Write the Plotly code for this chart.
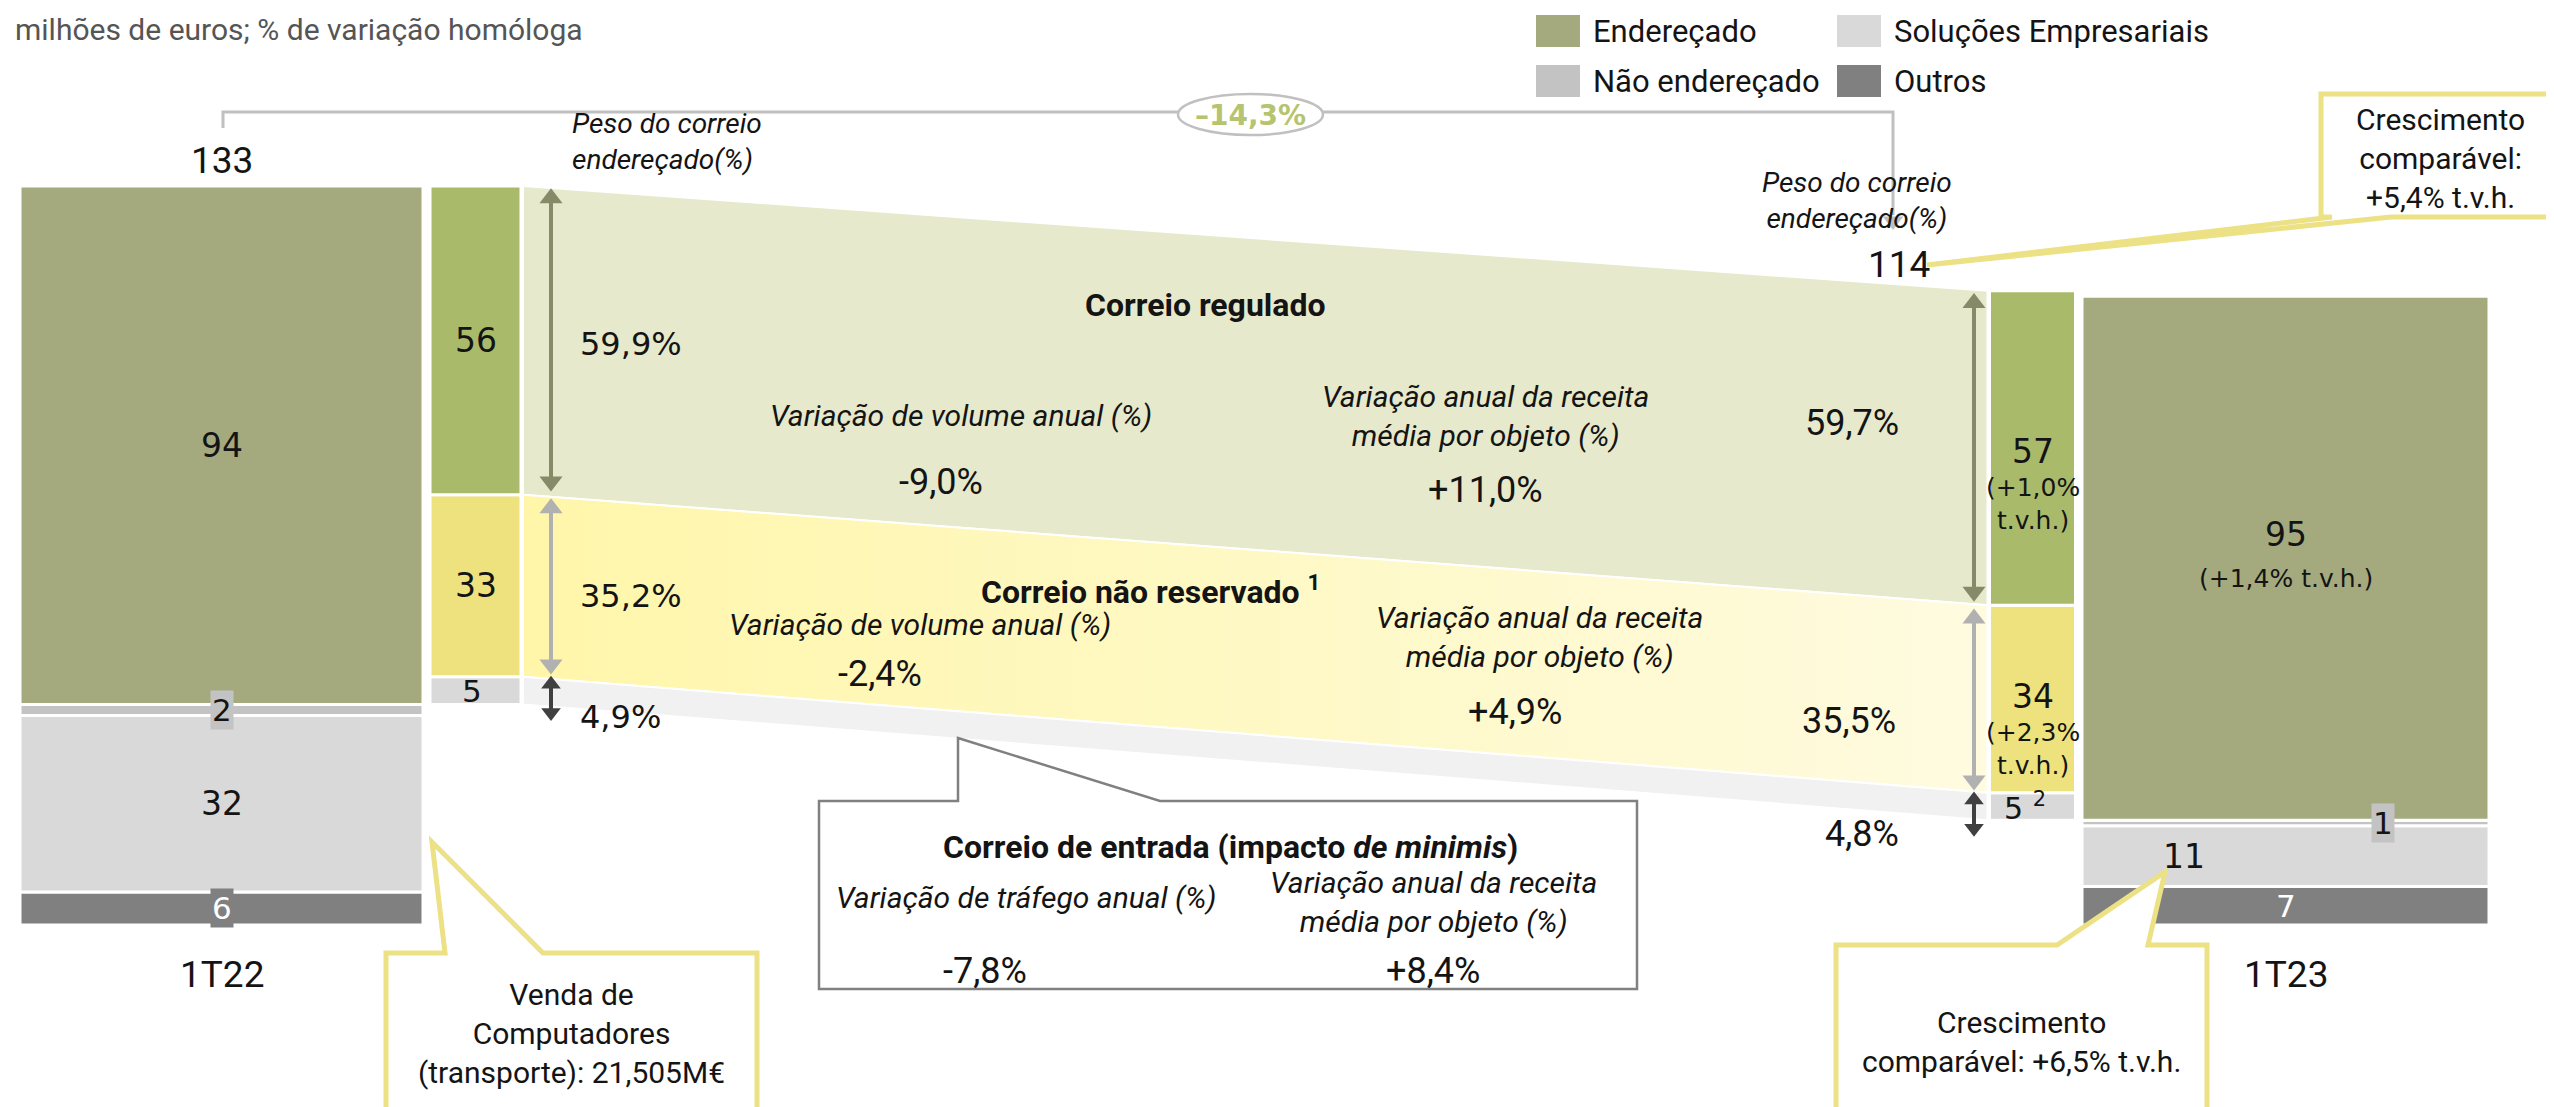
import plotly.graph_objects as go

# ------------------------------------------------------------------ data
periods = ["1T22", "1T23"]
totals = [133, 114]
total_change_label = "–14,3%"

enderecado = [94, 95]
nao_enderecado = [2, 1]
solucoes_empresariais = [32, 11]
outros = [6, 7]

correio_regulado = [56, 57]
correio_nao_reservado = [33, 34]
correio_entrada = [5, 5]

peso_regulado = ["59,9%", "59,7%"]
peso_nao_reservado = ["35,2%", "35,5%"]
peso_entrada = ["4,9%", "4,8%"]

regulado_tvh = "(+1,0%<br>t.v.h.)"
nao_reservado_tvh = "(+2,3%<br>t.v.h.)"
enderecado_tvh = "(+1,4% t.v.h.)"

regulado_volume = "-9,0%"
regulado_receita = "+11,0%"
nao_reservado_volume = "-2,4%"
nao_reservado_receita = "+4,9%"
entrada_trafego = "-7,8%"
entrada_receita = "+8,4%"

legend_names = ["Endereçado", "Soluções Empresariais", "Não endereçado", "Outros"]

# ------------------------------------------------------------------ layout constants
W, H = 2554, 1107
OFF = 8                 # page body margin
PX_PER = 5.515          # pixels per million euros
BASE_PX = 925           # page pixel row of value 0
Y1 = (BASE_PX - OFF) / PX_PER
Y0 = (BASE_PX - OFF - H) / PX_PER

big_x = [221.5, 2285.5]
big_w = [403, 407]
small_x = [475.5, 2032.5]
small_w = [91, 86]

COL_END = "#a4aa7e"
COL_NAO = "#c3c3c3"
COL_SOL = "#d9d9d9"
COL_OUT = "#808080"
COL_REG = "#a9bb6b"
COL_NRES = "#ede27e"
COL_ENT = "#d9d9d9"
COL_BAND_REG = "#e6e9cb"
COL_BAND_ENT = "#f1f1f1"
COL_YEL = "#ece184"
TXT = "#141414"

COND = "Roboto, Liberation Sans Narrow, sans-serif"
SANS = "DejaVu Sans, Verdana, sans-serif"

fig = go.Figure()


def add_stack(xs, ws, bases, layers):
    cum = list(bases)
    tops = []
    for name, vals, col in layers:
        fig.add_trace(go.Bar(
            x=xs, y=vals, base=cum, width=ws, name=name, showlegend=False,
            marker=dict(color=col, line=dict(color="white", width=3)),
            hoverinfo="skip"))
        cum = [c + v for c, v in zip(cum, vals)]
        tops.append(list(cum))
    return tops


# big bars
big_tops = add_stack(big_x, big_w, [0, 0], [
    ("Outros", outros, COL_OUT),
    ("Soluções Empresariais", solucoes_empresariais, COL_SOL),
    ("Não endereçado", nao_enderecado, COL_NAO),
    ("Endereçado", enderecado, COL_END),
])
small_base = big_tops[2]   # bottom of "Endereçado"
small_tops = add_stack(small_x, small_w, small_base, [
    ("Correio de entrada", correio_entrada, COL_ENT),
    ("Correio não reservado", correio_nao_reservado, COL_NRES),
    ("Correio regulado", correio_regulado, COL_REG),
])
ent_top, nres_top, reg_top = small_tops

# flow bands
L = small_x[0] + small_w[0] / 2 + 2
R = small_x[1] - small_w[1] / 2 - 2


def band(lo, hi, color=None, gradient=None):
    kw = dict(x=[L, R, R, L, L], y=[hi[0], hi[1], lo[1], lo[0], hi[0]],
              fill="toself", mode="lines", line=dict(color="white", width=2),
              showlegend=False, hoverinfo="skip")
    if gradient:
        kw["fillgradient"] = dict(type="horizontal", colorscale=gradient)
    else:
        kw["fillcolor"] = color
    fig.add_trace(go.Scatter(**kw))


band(nres_top, reg_top, COL_BAND_REG)
band(ent_top, nres_top, gradient=[[0, "#fff6aa"], [1, "#fefbe0"]])
band(small_base, ent_top, COL_BAND_ENT)


# double arrows (line + triangle heads), in value units
def darrow(x, y_top, y_bot, color, head=20, width=4, yaxis="y", per=PX_PER):
    r = head / 2 / per          # tip offset from marker centre, in axis units
    c_top, c_bot = y_top - r, y_bot + r
    fig.add_trace(go.Scatter(x=[x, x], y=[c_top, c_bot], mode="lines", yaxis=yaxis,
                             line=dict(color=color, width=width),
                             showlegend=False, hoverinfo="skip"))
    fig.add_trace(go.Scatter(x=[x, x], y=[c_top, c_bot], mode="markers", yaxis=yaxis,
                             marker=dict(symbol=["triangle-up", "triangle-down"], size=head,
                                         color=color, line=dict(width=0)),
                             showlegend=False, hoverinfo="skip"))


for i, ax_x in enumerate([551, 1974]):
    darrow(ax_x, reg_top[i] - 0.4, nres_top[i] + 0.6, "#878a68")
    darrow(ax_x, nres_top[i] - 0.6, ent_top[i] + 0.4, "#b1b1b1")
    darrow(ax_x, ent_top[i] + 0.2, small_base[i] - 3.0, "#404040", head=17)


def ann_v(x, y, text, size=33, font=SANS, color=TXT, yshift=0, bg=None, xanchor="center", **kw):
    fig.add_annotation(x=x, y=y, xref="x", yref="y", text=text, showarrow=False,
                       font=dict(family=font, size=size, color=color), yshift=yshift,
                       bgcolor=bg, xanchor=xanchor, **kw)


def ann_p(x, y, text, size=30, font=COND, color=TXT, xanchor="center", **kw):
    fig.add_annotation(x=x, y=y, xref="x", yref="y2", text=text, showarrow=False,
                       font=dict(family=font, size=size, color=color),
                       xanchor=xanchor, **kw)


def mid(a, b):
    return (a + b) / 2


# big bar labels
for i in range(2):
    ann_v(big_x[i], mid(big_tops[0][i], 0), str(outros[i]), color="white",
          bg=COL_OUT if i == 0 else None, size=31)
    ann_v(big_x[i] if i == 0 else big_x[i] - 102, mid(big_tops[1][i], big_tops[0][i]),
          str(solucoes_empresariais[i]), size=33)
    ann_v(big_x[i] if i == 0 else big_x[i] + 97, mid(big_tops[2][i], big_tops[1][i]),
          str(nao_enderecado[i]), bg=COL_NAO, size=31)
ann_v(big_x[0], mid(big_tops[3][0], big_tops[2][0]), str(enderecado[0]))
ann_v(big_x[1], mid(big_tops[3][1], big_tops[2][1]), str(enderecado[1]), yshift=24)
ann_v(big_x[1], mid(big_tops[3][1], big_tops[2][1]), enderecado_tvh, size=25, yshift=-20)

# small bar labels
ann_v(small_x[0], mid(reg_top[0], nres_top[0]), str(correio_regulado[0]))
ann_v(small_x[0], mid(nres_top[0], ent_top[0]), str(correio_nao_reservado[0]))
ann_v(small_x[0] - 4, mid(ent_top[0], small_base[0]), str(correio_entrada[0]), size=31)
ann_v(small_x[1], mid(reg_top[1], nres_top[1]), str(correio_regulado[1]), yshift=-4)
ann_v(small_x[1], mid(reg_top[1], nres_top[1]), regulado_tvh, size=25, yshift=-56)
ann_v(small_x[1], mid(nres_top[1], ent_top[1]), str(correio_nao_reservado[1]), yshift=2)
ann_v(small_x[1], mid(nres_top[1], ent_top[1]), nao_reservado_tvh, size=25, yshift=-50)
ann_v(small_x[1] - 8, mid(ent_top[1], small_base[1]), str(correio_entrada[1]) + " <sup>2</sup>", size=30)

# weight percentages
ann_v(578, mid(reg_top[0], nres_top[0]), peso_regulado[0], xanchor="left", yshift=-4, size=32)
ann_v(578, mid(nres_top[0], ent_top[0]), peso_nao_reservado[0], xanchor="left", yshift=-10, size=32)
ann_v(578, small_base[0] - 2.3, peso_entrada[0], xanchor="left", size=32)
ann_v(1852, mid(reg_top[1], nres_top[1]) + 4.5, peso_regulado[1], font=COND, size=36)
ann_v(1849, mid(nres_top[1], ent_top[1]) - 4, peso_nao_reservado[1], font=COND, size=36)
ann_v(1862, small_base[1] - 2.5, peso_entrada[1], font=COND, size=36)

# totals & periods
ann_p(big_x[0], 160, str(totals[0]), size=37)
ann_p(1899, 264, str(totals[1]), size=37)
ann_p(big_x[0], 974, periods[0], size=37)
ann_p(big_x[1], 974, periods[1], size=37)

# subtitle
ann_p(13, 29, "milhões de euros; % de variação homóloga", size=30, color="#555555", xanchor="left")

# legend (manual)
leg_cols = [COL_END, COL_SOL, COL_NAO, COL_OUT]
leg_pos = [(1536, 15), (1837, 15), (1536, 65), (1837, 65)]
for name, col, (lx, ly) in zip(legend_names, leg_cols, leg_pos):
    fig.add_shape(type="rect", xref="x", yref="y2", x0=lx, x1=lx + 44, y0=ly, y1=ly + 32,
                  fillcolor=col, line=dict(width=0))
    ann_p(lx + 55, ly + 16, name, size=31, xanchor="left")

# bracket with total change
fig.add_shape(type="path", xref="x", yref="y2",
              path="M223,128 L223,112 L1893,112 L1893,215",
              line=dict(color="#c0c0c0", width=3))
fig.add_trace(go.Scatter(x=[1893], y=[230 - 9], yaxis="y2", mode="markers",
                         marker=dict(symbol="triangle-down", size=18, color="#c0c0c0",
                                     line=dict(width=0)),
                         showlegend=False, hoverinfo="skip"))
fig.add_shape(type="circle", xref="x", yref="y2", x0=1178, x1=1323, y0=94, y1=135,
              fillcolor="white", line=dict(color="#c0c0c0", width=2.5))
ann_p(1250, 115, "<b>" + total_change_label + "</b>", size=28, font=SANS, color="#b6c46f")

# italic headers
ann_p(570, 141, "<i>Peso do correio<br>endereçado(%)</i>", size=28, xanchor="left", align="left")
ann_p(1857, 200, "<i>Peso do correio<br>endereçado(%)</i>", size=28)

# Correio regulado block
ann_p(1205, 305, "<b>Correio regulado</b>", size=32)
ann_p(961, 415, "<i>Variação de volume anual (%)</i>", size=30)
ann_p(941, 482, regulado_volume, size=36)
ann_p(1485, 416, "<i>Variação anual da receita<br>média por objeto (%)</i>", size=30)
ann_p(1485, 490, regulado_receita, size=36)

# Correio não reservado block
ann_p(1150, 590, "<b>Correio não reservado <sup>1</sup></b>", size=32)
ann_p(920, 624, "<i>Variação de volume anual (%)</i>", size=30)
ann_p(880, 674, nao_reservado_volume, size=36)
ann_p(1539, 637, "<i>Variação anual da receita<br>média por objeto (%)</i>", size=30)
ann_p(1515, 712, nao_reservado_receita, size=36)

# Correio de entrada callout (grey)
fig.add_shape(type="path", xref="x", yref="y2",
              path="M819,801 L958,801 L958,738 L1160,801 L1637,801 L1637,989 L819,989 Z",
              fillcolor="white", line=dict(color="#808080", width=2.5))
ann_p(1230, 847, "<b>Correio de entrada (impacto <i>de minimis</i>)</b>", size=32)
ann_p(1026, 897, "<i>Variação de tráfego anual (%)</i>", size=30)
ann_p(1433, 902, "<i>Variação anual da receita<br>média por objeto (%)</i>", size=30)
ann_p(985, 971, entrada_trafego, size=36)
ann_p(1433, 971, entrada_receita, size=36)

# yellow callouts
fig.add_shape(type="path", xref="x", yref="y2",
              path="M386,953 L445,953 L432,842 L543,953 L757,953 L757,1140 L386,1140 Z",
              fillcolor="white", line=dict(color=COL_YEL, width=5))
ann_p(571, 1033, "Venda de<br>Computadores<br>(transporte): 21,505M€", size=30)

fig.add_shape(type="path", xref="x", yref="y2",
              path="M1836,945 L2057,945 L2165,872 L2148,945 L2207,945 L2207,1140 L1836,1140 Z",
              fillcolor="white", line=dict(color=COL_YEL, width=5))
ann_p(2021, 1042, "Crescimento<br>comparável: +6,5% t.v.h.", size=30)

fig.add_shape(type="path", xref="x", yref="y2",
              path="M2321,94 L2580,94 L2580,217 L2391,217 L1927,265 L2332,217 L2321,217 Z",
              fillcolor="white", line=dict(color=COL_YEL, width=5))
ann_p(2440, 158, "Crescimento<br>comparável:<br>+5,4% t.v.h.", size=30)

fig.update_layout(
    width=W, height=H, margin=dict(l=0, r=0, t=0, b=0),
    paper_bgcolor="white", plot_bgcolor="white", barmode="overlay",
    showlegend=False,
    xaxis=dict(range=[OFF, W + OFF], visible=False, fixedrange=True),
    yaxis=dict(range=[Y0, Y1], visible=False, fixedrange=True),
    yaxis2=dict(range=[H + OFF, OFF], visible=False, overlaying="y", fixedrange=True),
)

fig.write_html("out.html")
